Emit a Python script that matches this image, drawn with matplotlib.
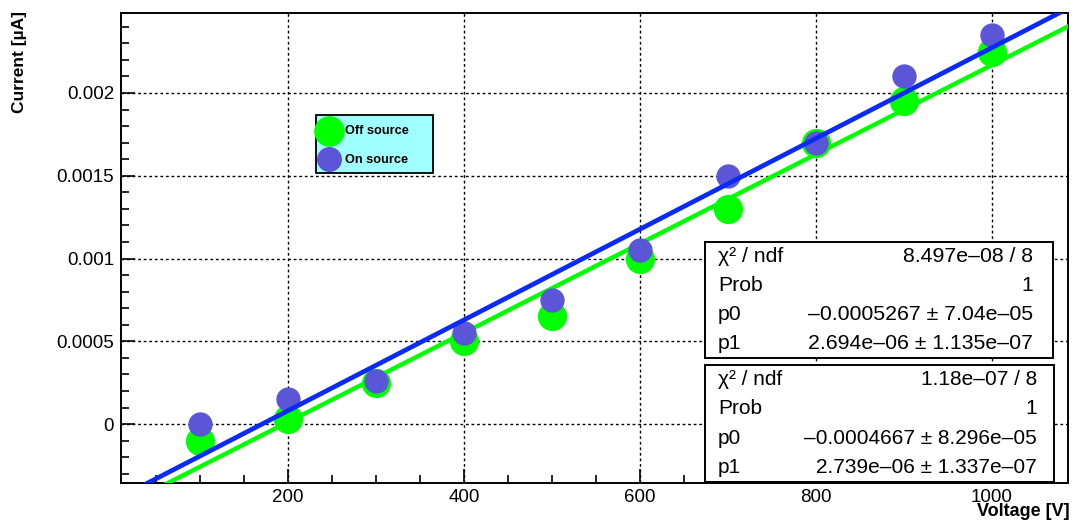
import numpy as np
import matplotlib
matplotlib.use("Agg")
import matplotlib.pyplot as plt
from matplotlib.patches import Rectangle
from matplotlib.lines import Line2D
from matplotlib.ticker import MultipleLocator

plt.rcParams['font.family'] = ['Liberation Sans', 'DejaVu Sans']

# ---- data ----
voltage = [100, 200, 300, 400, 500, 600, 700, 800, 900, 1000]
current_off = [-0.0001, 0.00003, 0.00025, 0.0005, 0.00065, 0.001, 0.0013, 0.0017, 0.00195, 0.00225]
current_on = [0.0, 0.00015, 0.00026, 0.00055, 0.00075, 0.00105, 0.0015, 0.0017, 0.0021, 0.00235]

fit_off = {"p0": -0.0005267, "p1": 2.694e-06}
fit_on = {"p0": -0.0004667, "p1": 2.739e-06}

legend_labels = ["Off source", "On source"]
stats_off = [("χ² / ndf", "8.497e–08 / 8"), ("Prob", "1"),
             ("p0", "–0.0005267 ± 7.04e–05"), ("p1", "2.694e–06 ± 1.135e–07")]
stats_on = [("χ² / ndf", "1.18e–07 / 8"), ("Prob", "1"),
            ("p0", "–0.0004667 ± 8.296e–05"), ("p1", "2.739e–06 ± 1.337e–07")]

xlabel = "Voltage [V]"
ylabel = "Current [µA]"

# ---- style ----
W, H = 1074, 523
GREEN = "#00ff00"
BLUE_M = "#5b55d8"
BLUE_L = "#0a2af5"

fig = plt.figure(figsize=(W / 100, H / 100), dpi=100)
L, R, T, B = 121, 1068, 13, 483
ax = fig.add_axes([L / W, 1 - B / H, (R - L) / W, (B - T) / H])

xlim = (10, 1087)
ylim = (-0.000356, 0.002483)
ax.set_xlim(*xlim)
ax.set_ylim(*ylim)

xx = np.linspace(xlim[0], xlim[1], 200)
ax.plot(voltage, current_off, 'o', color=GREEN, ms=20, mec=GREEN, zorder=3)
ax.plot(xx, fit_off["p0"] + fit_off["p1"] * xx, color=GREEN, lw=3.2, zorder=4)
ax.plot(voltage, current_on, 'o', color=BLUE_M, ms=16.5, mec=BLUE_M, zorder=5)
ax.plot(xx, fit_on["p0"] + fit_on["p1"] * xx, color=BLUE_L, lw=3.4, zorder=6)

ax.xaxis.set_major_locator(MultipleLocator(200))
ax.xaxis.set_minor_locator(MultipleLocator(50))
ax.yaxis.set_major_locator(MultipleLocator(0.0005))
ax.yaxis.set_minor_locator(MultipleLocator(0.0001))
ax.set_yticks([0, 0.0005, 0.001, 0.0015, 0.002])
ax.set_yticklabels(["0", "0.0005", "0.001", "0.0015", "0.002"])
ax.set_xticks([200, 400, 600, 800, 1000])
ax.set_xticklabels(["200", "400", "600", "800", "1000"])
ax.tick_params(which='both', direction='in', top=False, right=False, width=1.2, labelsize=13.5)
ax.tick_params(which='major', length=10)
ax.tick_params(which='minor', length=6)
ax.tick_params(axis='y', pad=5)
ax.tick_params(axis='x', pad=4)
ax.grid(True, which='major', color='black', linestyle=(0, (2, 2)), linewidth=1.0, zorder=1)
ax.set_axisbelow(True)
for s in ax.spines.values():
    s.set_linewidth(1.4)

fig.text(1070 / W, 1 - 512 / H, xlabel, ha='right', va='center', fontsize=13, fontweight='bold')
fig.text(20 / W, 1 - 11 / H, ylabel, ha='center', va='top', rotation=90, fontsize=12.5,
         fontweight='bold')

def fx(x):
    return x / W

def fy(y):
    return 1 - y / H

# legend box
fig.patches.append(Rectangle((fx(316), fy(173)), fx(433) - fx(316), fy(115) - fy(173),
                             transform=fig.transFigure, facecolor="#a0ffff",
                             edgecolor='black', linewidth=1.3, zorder=10))
fig.add_artist(Line2D([fx(329)], [fy(131)], marker='o', ms=21, color=GREEN,
                      mec=GREEN, transform=fig.transFigure, zorder=11))
fig.add_artist(Line2D([fx(329)], [fy(159)], marker='o', ms=17, color=BLUE_M,
                      mec=BLUE_M, transform=fig.transFigure, zorder=11))
fig.text(fx(345), fy(131), legend_labels[0], fontsize=9.2, va='center', ha='left', zorder=12,
         fontweight='bold')
fig.text(fx(345), fy(160), legend_labels[1], fontsize=9.2, va='center', ha='left', zorder=12,
         fontweight='bold')

# stats boxes
def stats_box(x0, y0, x1, y1, rows, fs, rpad):
    fig.patches.append(Rectangle((fx(x0), fy(y1)), fx(x1) - fx(x0), fy(y0) - fy(y1),
                                 transform=fig.transFigure, facecolor='white',
                                 edgecolor='black', linewidth=1.4, zorder=10))
    n = len(rows)
    h = (y1 - y0) / n
    for i, (k, v) in enumerate(rows):
        yc = y0 + h * (i + 0.5)
        fig.text(fx(x0 + 13), fy(yc), k, fontsize=fs, va='center', ha='left', zorder=12)
        fig.text(fx(x1 - rpad), fy(yc), v, fontsize=fs, va='center', ha='right', zorder=12)

stats_box(705, 242, 1053, 358, stats_off, 15.3, 20)
stats_box(705, 365, 1054, 482, stats_on, 15, 17)

fig.savefig("out.png", dpi=100)
